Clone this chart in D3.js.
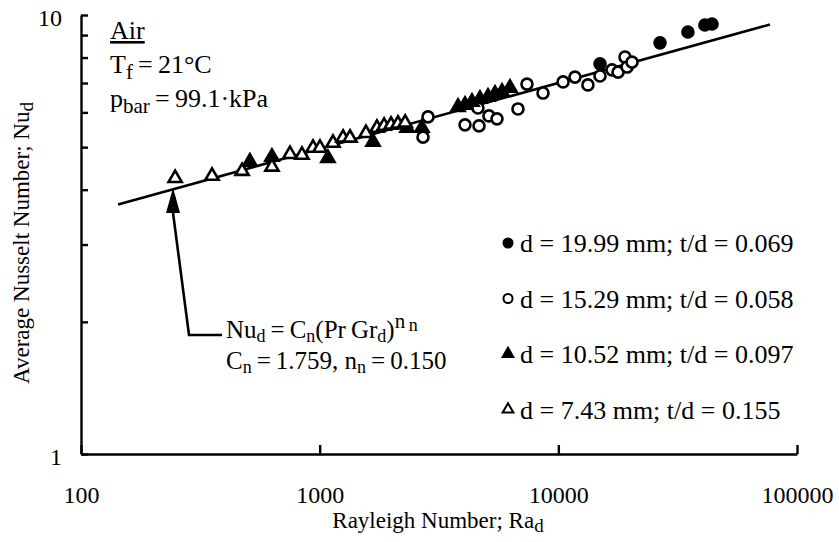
<!DOCTYPE html>
<meta charset="utf-8">
<style>
body { margin: 0; background: #fff; }
text { font-family: "Liberation Serif", "Times New Roman", serif; fill: #000; }
.axis path, .axis line { stroke: #000; stroke-width: 2.4px; }
.axis text { font-size: 24px; }
</style>
<svg width="839" height="542"></svg>
<script src="https://d3js.org/d3.v7.min.js"></script>
<script>

// d = 19.99 mm (filled circles)
var ra1999 = [14950, 26670, 34910, 41120, 44040];
var nu1999 = [7.74, 8.64, 9.15, 9.49, 9.54];

// d = 15.29 mm (open circles)
var ra1529 = [2844, 2710, 4064, 4652, 5120, 5533, 4605, 6775, 7390, 8625, 10470, 11740, 13300, 14950, 16780, 17790, 19020, 19410, 20360];
var nu1529 = [5.86, 5.27, 5.62, 5.59, 5.89, 5.80, 6.14, 6.11, 6.96, 6.64, 7.04, 7.22, 6.93, 7.26, 7.50, 7.41, 8.02, 7.61, 7.81];

// d = 10.52 mm (filled triangles)
var ra1052 = [510, 631, 1083, 1673, 2323, 2683, 3800, 4064, 4348, 4696, 5072, 5429, 5808, 6272];
var nu1052 = [4.63, 4.75, 4.72, 5.14, 5.53, 5.53, 6.17, 6.24, 6.34, 6.44, 6.51, 6.61, 6.68, 6.82];

// d = 7.43 mm (open triangles)
var ra743 = [248, 354, 473, 631, 751, 843, 938, 1003, 1137, 1253, 1340, 1563, 1738, 1862, 1990, 2128, 2280];
var nu743 = [4.25, 4.30, 4.41, 4.51, 4.82, 4.80, 4.98, 4.98, 5.11, 5.25, 5.25, 5.38, 5.53, 5.59, 5.62, 5.65, 5.68];

// correlation Nu = Cn * Ra^nn
var Cn = 1.759, nn = 0.150;
var fitRa = [143, 77000];

var xTicks = [100, 1000, 10000, 100000];
var yTicks = [1, 10];

var legendLabels = ["d = 19.99 mm; t/d = 0.069", "d = 15.29 mm; t/d = 0.058",
                    "d = 10.52 mm; t/d = 0.097", "d = 7.43 mm; t/d = 0.155"];

var svg = d3.select("svg");

var x = d3.scaleLog().domain([100, 100000]).range([81, 797]);
var y = d3.scaleLog().domain([1, 10]).range([454, 15]);

var series = [
  {ra: ra1999, nu: nu1999, shape: d3.symbolCircle, filled: true},
  {ra: ra1529, nu: nu1529, shape: d3.symbolCircle, filled: false},
  {ra: ra1052, nu: nu1052, shape: d3.symbolTriangle, filled: true},
  {ra: ra743,  nu: nu743,  shape: d3.symbolTriangle, filled: false}
];

// axes
var xAxis = svg.append("g")
    .attr("class", "axis")
    .attr("transform", "translate(0," + y(1) + ")")
    .call(d3.axisBottom(x)
      .ticks(3)
      .tickSizeInner(-7)
      .tickSizeOuter(0)
      .tickPadding(32)
      .tickFormat(function(d) { return xTicks.indexOf(d) >= 0 ? d : ""; }));
xAxis.selectAll(".tick line").attr("y2", function(d) { return xTicks.indexOf(d) >= 0 ? -9 : -7; });

var yAxis = svg.append("g")
    .attr("class", "axis")
    .attr("transform", "translate(" + x(100) + ",0)")
    .call(d3.axisLeft(y)
      .ticks(10)
      .tickSizeInner(-7)
      .tickSizeOuter(0)
      .tickPadding(19)
      .tickFormat(function(d) { return yTicks.indexOf(d) >= 0 ? d : ""; }));
yAxis.selectAll(".tick text").attr("dy", "0.42em");

// axis titles
var xt = svg.append("text")
    .attr("x", 438).attr("y", 528)
    .attr("text-anchor", "middle")
    .style("font-size", "23px");
xt.append("tspan").text("Rayleigh Number; Ra");
xt.append("tspan").attr("dy", 4).style("font-size", "19px").text("d");

var yt = svg.append("text")
    .attr("transform", "translate(29,243) rotate(-90)")
    .attr("text-anchor", "middle")
    .style("font-size", "23px");
yt.append("tspan").text("Average Nusselt Number; Nu");
yt.append("tspan").attr("dy", 4).style("font-size", "19px").text("d");

// fit line
svg.append("line")
    .attr("x1", x(fitRa[0])).attr("y1", y(Cn * Math.pow(fitRa[0], nn)))
    .attr("x2", x(fitRa[1])).attr("y2", y(Cn * Math.pow(fitRa[1], nn)))
    .attr("stroke", "#000").attr("stroke-width", 2.6);

// points
series.forEach(function(s) {
  var sym = d3.symbol().type(s.shape).size(s.shape === d3.symbolCircle ? 95 : 75);
  svg.append("g").selectAll("path")
    .data(s.ra.map(function(r, i) { return [r, s.nu[i]]; }))
    .enter().append("path")
      .attr("d", sym)
      .attr("transform", function(d) { return "translate(" + x(d[0]) + "," + y(d[1]) + ")"; })
      .attr("fill", s.filled ? "#000" : "#fff")
      .attr("stroke", "#000")
      .attr("stroke-width", 2.6);
});

// arrow to the correlation line
var arrowPts = [[390, 1.867], [283.5, 1.867], [243, 3.54]];
svg.append("path")
    .attr("d", d3.line().x(function(d) { return x(d[0]); }).y(function(d) { return y(d[1]); })(arrowPts))
    .attr("fill", "none").attr("stroke", "#000").attr("stroke-width", 2.6);
var tipX = x(243), tipY = y(4.04), baseY = y(3.54);
svg.append("path")
    .attr("d", "M" + tipX + "," + tipY + "L" + (tipX - 7) + "," + baseY + "L" + (tipX + 7) + "," + baseY + "Z")
    .attr("fill", "#000");

// formula
var f1 = svg.append("text").attr("x", 226).attr("y", 338).style("font-size", "25px");
f1.append("tspan").text("Nu");
f1.append("tspan").attr("dy", 4).style("font-size", "18px").text("d");
f1.append("tspan").attr("dy", -4).text("\u2009=\u2009C");
f1.append("tspan").attr("dy", 4).style("font-size", "18px").text("n");
f1.append("tspan").attr("dy", -4).text("(Pr\u2009Gr");
f1.append("tspan").attr("dy", 4).style("font-size", "18px").text("d");
f1.append("tspan").attr("dy", -4).text(")");
f1.append("tspan").attr("dy", -10).style("font-size", "21px").text("n");
f1.append("tspan").attr("dy", 3).style("font-size", "18px").text("\u2009n");

var f2 = svg.append("text").attr("x", 226).attr("y", 369).style("font-size", "25px");
f2.append("tspan").text("C");
f2.append("tspan").attr("dy", 4).style("font-size", "18px").text("n");
f2.append("tspan").attr("dy", -4).text("\u2009=\u20091.759, n");
f2.append("tspan").attr("dy", 4).style("font-size", "18px").text("n");
f2.append("tspan").attr("dy", -4).text("\u2009=\u20090.150");

// conditions
svg.append("text").attr("x", 110).attr("y", 39).style("font-size", "26px")
    .style("text-decoration", "underline").text("Air");
var t1 = svg.append("text").attr("x", 110).attr("y", 73).style("font-size", "26px");
t1.append("tspan").text("T");
t1.append("tspan").attr("dy", 6).style("font-size", "21px").text("f");
t1.append("tspan").attr("dy", -6).text("\u2009=\u200921\u00b0C");
var t2 = svg.append("text").attr("x", 110).attr("y", 107).style("font-size", "26px");
t2.append("tspan").text("p");
t2.append("tspan").attr("dy", 6).style("font-size", "21px").text("bar");
t2.append("tspan").attr("dy", -6).text("\u2009=\u200999.1\u00b7kPa");

// legend
var legend = svg.append("g").selectAll("g")
    .data(series)
    .enter().append("g")
      .attr("transform", function(d, i) { return "translate(508," + (243 + i * 55.5) + ")"; });
legend.append("path")
    .attr("d", function(d) { return d3.symbol().type(d.shape).size(d.shape === d3.symbolCircle ? 65 : 50)(); })
    .attr("fill", function(d) { return d.filled ? "#000" : "#fff"; })
    .attr("stroke", "#000").attr("stroke-width", 2);
legend.append("text")
    .attr("x", 12).attr("dy", "0.35em")
    .style("font-size", "26px")
    .text(function(d, i) { return legendLabels[i]; });

</script>
